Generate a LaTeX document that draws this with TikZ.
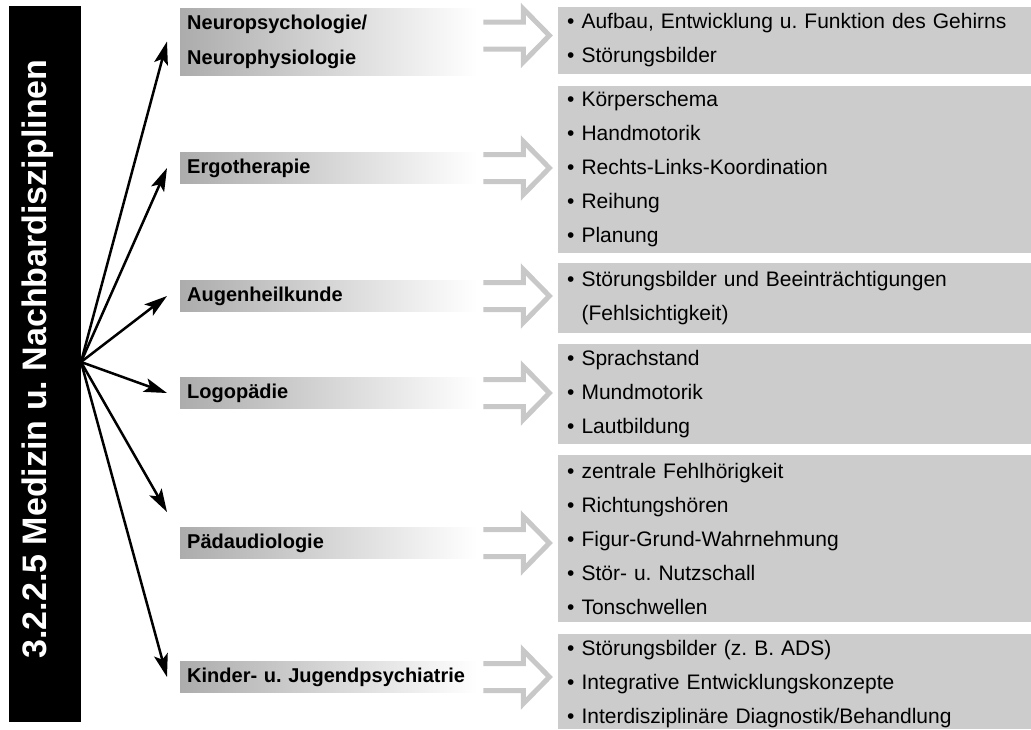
\documentclass[tikz,border=0pt]{standalone}
\usepackage{fontspec}
\setmainfont{Liberation Sans}
\usetikzlibrary{arrows.meta, positioning, calc}
\definecolor{boxgrey}{HTML}{CCCCCC}
\definecolor{arrowgrey}{HTML}{C8C8C8}
\definecolor{topicgrey}{HTML}{ACACAC}
\frenchspacing

% hollow grey arrow from a topic to its list (optional vertical offset)
\newcommand{\hollowarrow}[2][0]{%
  \draw[hollow] ($(#2.east)+(6,#1-13.5)$) -- ++(40,0) -- ++(0,-13) -- ++(26,26.5)
    -- ++(-26,26.5) -- ++(0,-13) -- ++(-40,0);}

\begin{document}
\begin{tikzpicture}[
	x=1pt, y=-1pt,
	every node/.style={font=\fontsize{21}{34}\selectfont},
	topic/.style={anchor=west, left color=topicgrey, right color=white, minimum width=297pt, minimum height=31pt, text width=283pt, inner xsep=7pt, inner ysep=0pt, align=left, font=\bfseries\fontsize{20}{35}\selectfont},
	items/.style={anchor=west, fill=boxgrey, minimum width=473pt, text width=455pt, inner xsep=9pt, inner ysep=0pt, align=left},
	hollow/.style={draw=arrowgrey, line width=5pt, miter limit=10},
	arrow/.style={-{Stealth[length=23pt, width=14pt, inset=5pt]}, line width=2.5pt}
]
\useasboundingbox (0,0) rectangle (1031,729);

% Title bar
\node[fill=black, minimum width=72pt, minimum height=716pt, inner sep=0pt] (bar) at (45,364) {};
\node[rotate=90, text=white, inner sep=0pt, font=\bfseries\fontsize{34}{34}\selectfont] (title) at (38,359) {3.2.2.5 Medizin u. Nachbardisziplinen};
\coordinate (hub) at (81,362);

% Disciplines
\node[topic, minimum height=67pt] (neuro) at (180,41.5) {Neuropsychologie/\\Neurophysiologie};
\node[topic] (ergo) at (180,168) {Ergotherapie};
\node[topic] (auge) at (180,296) {Augenheilkunde};
\node[topic] (logo) at (180,393) {Logopädie};
\node[topic] (paed) at (180,543) {Pädaudiologie};
\node[topic] (kjp) at (180,677) {Kinder- u. Jugendpsychiatrie};

% Contents
\node[items, minimum height=67pt] (neuroitems) at (558,40.5) {• Aufbau, Entwicklung u. Funktion des Gehirns\\• Störungsbilder};
\node[items, minimum height=167pt] (ergoitems) at (558,169.5) {• Körperschema\\• Handmotorik\\• Rechts-Links-Koordination\\• Reihung\\• Planung};
\node[items, minimum height=70pt] (augeitems) at (558,298) {• Störungsbilder und Beeinträchtigungen\\\phantom{• }(Fehlsichtigkeit)};
\node[items, minimum height=100pt] (logoitems) at (558,394) {• Sprachstand\\• Mundmotorik\\• Lautbildung};
\node[items, minimum height=167pt] (paeditems) at (558,538.5) {• zentrale Fehlhörigkeit\\• Richtungshören\\• Figur-Grund-Wahrnehmung\\• Stör- u. Nutzschall\\• Tonschwellen};
\node[items, minimum height=95pt] (kjpitems) at (558,681.5) {\raisebox{-3pt}[\height][\depth]{\parbox{455pt}{• Störungsbilder (z. B. ADS)\\• Integrative Entwicklungskonzepte\\• Interdisziplinäre Diagnostik/Behandlung}}};

% Arrows from the title
\draw[arrow] (hub) -- ([xshift=-13pt]neuro.west);
\draw[arrow] (hub) -- ([xshift=-13pt]ergo.west);
\draw[arrow] (hub) -- ([xshift=-13pt]auge.west);
\draw[arrow] (hub) -- ([xshift=-13pt]logo.west);
\draw[arrow] (hub) -- ([xshift=-13pt, yshift=31pt]paed.west);
\draw[arrow] (hub) -- ([xshift=-13pt]kjp.west);

% Hollow arrows to the contents
\hollowarrow[-6]{neuro}
\hollowarrow{ergo}
\hollowarrow{auge}
\hollowarrow{logo}
\hollowarrow{paed}
\hollowarrow{kjp}

\end{tikzpicture}
\end{document}
